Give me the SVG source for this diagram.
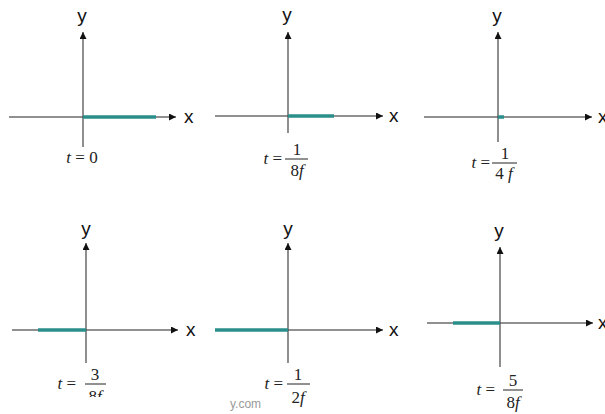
<svg xmlns="http://www.w3.org/2000/svg" width="605" height="414" viewBox="0 0 605 414">
<defs>
<marker id="ah" viewBox="0 0 10 10" refX="10" refY="5" markerWidth="8" markerHeight="7" markerUnits="userSpaceOnUse" orient="auto">
<path d="M0,0 L10,5 L0,10 z" fill="#111"/>
</marker>
<clipPath id="cut"><rect x="0" y="0" width="605" height="397"/></clipPath>
</defs>
<style>
.ax{stroke:#222;stroke-width:1.2;fill:none}
.ay{stroke:#444;stroke-width:1.2;fill:none}
.seg{stroke:#2a8f8b;stroke-width:3.5;fill:none}
.lbl{font-family:"Liberation Sans",Arial,sans-serif;font-size:19px;fill:#111}
.m{font-family:"Liberation Serif","Times New Roman",serif;font-size:17px;fill:#222}
.i{font-style:italic}
.fl{stroke:#222;stroke-width:1}
.wm{font-family:"Liberation Sans",Arial,sans-serif;font-size:12px;fill:#999}
</style>
<rect width="605" height="414" fill="#fff"/>

<g id="connectors">
<line class="ax" x1="9" y1="117" x2="176" y2="117" marker-end="url(#ah)"/>
<line class="ay" x1="83" y1="147" x2="83" y2="32" marker-end="url(#ah)"/>
<line class="ax" x1="215" y1="116" x2="383" y2="116" marker-end="url(#ah)"/>
<line class="ay" x1="288" y1="133" x2="288" y2="32" marker-end="url(#ah)"/>
<line class="ax" x1="424" y1="117" x2="592" y2="117" marker-end="url(#ah)"/>
<line class="ay" x1="498" y1="142" x2="498" y2="32" marker-end="url(#ah)"/>
<line class="ax" x1="12" y1="330" x2="178" y2="330" marker-end="url(#ah)"/>
<line class="ay" x1="86" y1="363" x2="86" y2="243" marker-end="url(#ah)"/>
<line class="ax" x1="215" y1="330" x2="383" y2="330" marker-end="url(#ah)"/>
<line class="ay" x1="288" y1="363" x2="288" y2="243" marker-end="url(#ah)"/>
<line class="ax" x1="427" y1="323" x2="593" y2="323" marker-end="url(#ah)"/>
<line class="ay" x1="500" y1="367" x2="500" y2="247" marker-end="url(#ah)"/>
</g>

<g id="panel1">
<line class="seg" x1="83" y1="117" x2="156" y2="117"/>
<text class="lbl" x="82" y="22" text-anchor="middle">y</text>
<text class="lbl" x="184" y="123">x</text>
<text class="m" x="82" y="163" text-anchor="middle"><tspan class="i">t</tspan> = 0</text>
</g>

<g id="panel2">
<line class="seg" x1="288" y1="116" x2="334" y2="116"/>
<text class="lbl" x="287" y="21" text-anchor="middle">y</text>
<text class="lbl" x="389" y="122">x</text>
<text class="m" x="282" y="164" text-anchor="end"><tspan class="i">t</tspan> =</text>
<text class="m" x="297" y="155" text-anchor="middle">1</text>
<line class="fl" x1="285" y1="159" x2="308" y2="159"/>
<text class="m" x="297" y="176" text-anchor="middle">8<tspan class="i">f</tspan></text>
</g>

<g id="panel3">
<line class="seg" x1="498" y1="117" x2="504" y2="117"/>
<text class="lbl" x="497" y="22" text-anchor="middle">y</text>
<text class="lbl" x="598" y="123">x</text>
<text class="m" x="490" y="168" text-anchor="end"><tspan class="i">t</tspan> =</text>
<text class="m" x="505" y="159" text-anchor="middle">1</text>
<line class="fl" x1="492" y1="163" x2="517" y2="163"/>
<text class="m" x="504" y="179" text-anchor="middle">4 <tspan class="i">f</tspan></text>
</g>

<g id="panel4">
<line class="seg" x1="38" y1="330" x2="86" y2="330"/>
<text class="lbl" x="86" y="235" text-anchor="middle">y</text>
<text class="lbl" x="186" y="336">x</text>
<text class="m" x="76" y="389" text-anchor="end"><tspan class="i">t</tspan> =</text>
<text class="m" x="95" y="380" text-anchor="middle">3</text>
<line class="fl" x1="85" y1="384" x2="106" y2="384"/>
<text class="m" x="95" y="402" text-anchor="middle" clip-path="url(#cut)">8<tspan class="i">f</tspan></text>
</g>

<g id="panel5">
<line class="seg" x1="215" y1="330" x2="288" y2="330"/>
<text class="lbl" x="288" y="235" text-anchor="middle">y</text>
<text class="lbl" x="389" y="336">x</text>
<text class="m" x="283" y="389" text-anchor="end"><tspan class="i">t</tspan> =</text>
<text class="m" x="298" y="380" text-anchor="middle">1</text>
<line class="fl" x1="287" y1="384" x2="310" y2="384"/>
<text class="m" x="298" y="403" text-anchor="middle">2<tspan class="i">f</tspan></text>
<text class="wm" x="230" y="408">y.com</text>
</g>

<g id="panel6">
<line class="seg" x1="453" y1="323" x2="500" y2="323"/>
<text class="lbl" x="499" y="237" text-anchor="middle">y</text>
<text class="lbl" x="598" y="329">x</text>
<text class="m" x="495" y="395" text-anchor="end"><tspan class="i">t</tspan> =</text>
<text class="m" x="513" y="386" text-anchor="middle">5</text>
<line class="fl" x1="503" y1="390" x2="523" y2="390"/>
<text class="m" x="513" y="408" text-anchor="middle">8<tspan class="i">f</tspan></text>
</g>
</svg>
